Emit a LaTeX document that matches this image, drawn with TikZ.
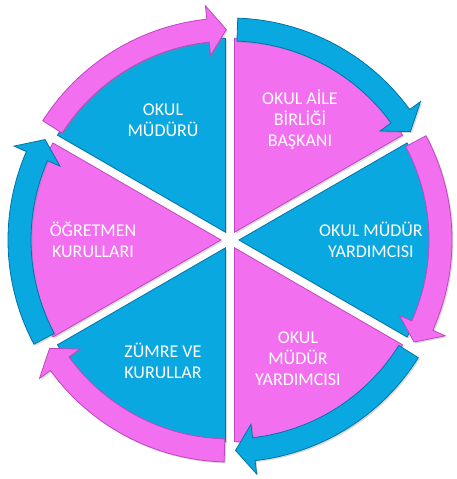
\documentclass[tikz,border=0pt]{standalone}
\usepackage{fontspec}
\setmainfont{Carlito}
\usetikzlibrary{shadows}

\definecolor{diskblue}{RGB}{10,168,224}
\definecolor{diskblueedge}{RGB}{0,116,168}
\definecolor{diskpink}{RGB}{242,112,240}
\definecolor{diskpinkedge}{RGB}{192,70,192}

\tikzset{
  bluepart/.style={fill=diskblue, draw=diskblueedge, line width=0.8pt,
    drop shadow={shadow xshift=1.5pt, shadow yshift=-1.5pt, opacity=0.3}},
  pinkpart/.style={fill=diskpink, draw=diskpinkedge, line width=0.8pt,
    drop shadow={shadow xshift=1.5pt, shadow yshift=-1.5pt, opacity=0.3}},
  lbl/.style={text=white, align=center, inner sep=0pt,
    font=\fontsize{18}{21}\selectfont}
}

\begin{document}
\begin{tikzpicture}[x=1pt, y=1pt]

	\useasboundingbox (-230,-239) rectangle (226,240);

	% Disk dimensions
	\def\rsec{194}
	\def\gap{9}
	\def\rin{199}
	\def\rout{222}
	\def\rmid{210.5}
	\def\win{185.5}
	\def\wout{235.5}

	% Sectors
	\draw[bluepart] (120:\gap) -- ++(90:\rsec) arc[start angle=90, end angle=150, radius=\rsec] -- cycle;
	\draw[pinkpart] (60:\gap) -- ++(30:\rsec) arc[start angle=30, end angle=90, radius=\rsec] -- cycle;
	\draw[bluepart] (0:\gap) -- ++(-30:\rsec) arc[start angle=-30, end angle=30, radius=\rsec] -- cycle;
	\draw[pinkpart] (-60:\gap) -- ++(-90:\rsec) arc[start angle=-90, end angle=-30, radius=\rsec] -- cycle;
	\draw[bluepart] (-120:\gap) -- ++(-150:\rsec) arc[start angle=-150, end angle=-90, radius=\rsec] -- cycle;
	\draw[pinkpart] (180:\gap) -- ++(150:\rsec) arc[start angle=150, end angle=210, radius=\rsec] -- cycle;

	% Arrows round the disk (clockwise)
	\draw[pinkpart] (147.5:\rout) arc[start angle=147.5, end angle=96, radius=\rout]
		-- (96:\wout) -- (91:\rmid) -- (96:\win) -- (96:\rin)
		arc[start angle=96, end angle=147.5, radius=\rin] -- cycle;
	\draw[bluepart] (88:\rout) arc[start angle=88, end angle=36, radius=\rout]
		-- (36:\wout) -- (31:\rmid) -- (36:\win) -- (36:\rin)
		arc[start angle=36, end angle=88, radius=\rin] -- cycle;
	\draw[pinkpart] (28:\rout) arc[start angle=28, end angle=-24, radius=\rout]
		-- (-24:\wout) -- (-29:\rmid) -- (-24:\win) -- (-24:\rin)
		arc[start angle=-24, end angle=28, radius=\rin] -- cycle;
	\draw[bluepart] (-32:\rout) arc[start angle=-32, end angle=-83.5, radius=\rout]
		-- (-83.5:\wout) -- (-88.5:\rmid) -- (-83.5:\win) -- (-83.5:\rin)
		arc[start angle=-83.5, end angle=-32, radius=\rin] -- cycle;
	\draw[pinkpart] (-91.5:\rout) arc[start angle=-91.5, end angle=-144, radius=\rout]
		-- (-144:\wout) -- (-149:\rmid) -- (-144:\win) -- (-144:\rin)
		arc[start angle=-144, end angle=-91.5, radius=\rin] -- cycle;
	\draw[bluepart] (-152:\rout) arc[start angle=-152, end angle=-203.5, radius=\rout]
		-- (-203.5:\wout) -- (-208.5:\rmid) -- (-203.5:\win) -- (-203.5:\rin)
		arc[start angle=-203.5, end angle=-152, radius=\rin] -- cycle;

	% Labels
	\node[lbl] (mudur) at (-67,120) {OKUL\\MÜDÜRÜ};
	\node[lbl] (aile) at (70,120) {OKUL AİLE\\BİRLİĞİ\\BAŞKANI};
	\node[lbl] (yrdsag) at (141,0) {OKUL MÜDÜR\\YARDIMCISI};
	\node[lbl] (yrdalt) at (68,-119) {OKUL\\MÜDÜR\\YARDIMCISI};
	\node[lbl] (zumre) at (-67,-121) {ZÜMRE VE\\KURULLAR};
	\node[lbl] (ogretmen) at (-137,0) {ÖĞRETMEN\\KURULLARI};

\end{tikzpicture}
\end{document}
